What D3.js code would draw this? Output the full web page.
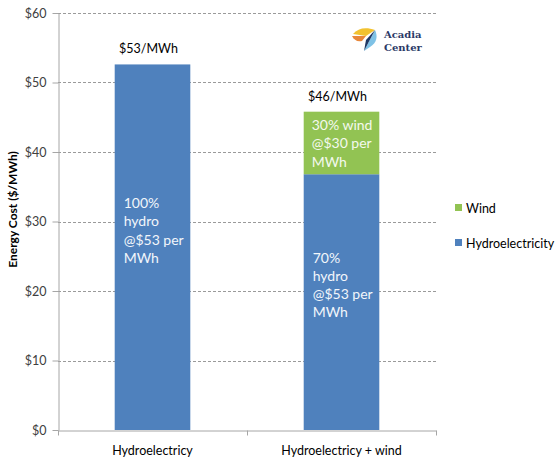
<!DOCTYPE html>
<html>
<head>
<meta charset="utf-8">
<script src="https://cdn.jsdelivr.net/npm/d3@7"></script>
<style>
  body { margin: 0; background: #fff; }
  text { font-family: Lato, "Open Sans", sans-serif; }
  text.logo { font-family: "DejaVu Serif", serif; }
</style>
</head>
<body>
<svg id="chart" width="557" height="464"></svg>
<script>
// Chart data
const categories = ['Hydroelectricy', 'Hydroelectricy + wind'];
const hydroValues = [52.6, 36.8];
const windValues = [0, 9.0];
const totalLabels = ['$53/MWh', '$46/MWh'];
const hydroLabels = [
    ['100%', 'hydro', '@$53 per', 'MWh'],
    ['70%', 'hydro', '@$53 per', 'MWh']
];
const windLabels = [[], ['30% wind', '@$30 per', 'MWh']];
const yTicks = [0, 10, 20, 30, 40, 50, 60];
const seriesNames = ['Wind', 'Hydroelectricity'];

const COLOR_HYDRO = '#4f81bd';
const COLOR_WIND = '#92c353';
const AXIS_COLOR = '#a6a6a6';
const TEXT_COLOR = '#404040';

const margin = { left: 58, right: 121, top: 13, bottom: 34 };
const width = 557, height = 464;

const svg = d3.select('#chart');

const x = d3.scaleBand()
    .domain(categories)
    .range([margin.left, width - margin.right])
    .padding(0);

const y = d3.scaleLinear()
    .domain([0, 60])
    .range([height - margin.bottom, margin.top]);

const barW = x.bandwidth() * 0.4;
const barX = c => x(c) + (x.bandwidth() - barW) / 2;

// gridlines
svg.append('g')
    .selectAll('line')
    .data(yTicks.filter(t => t > 0))
    .join('line')
    .attr('x1', margin.left)
    .attr('x2', width - margin.right)
    .attr('y1', d => Math.round(y(d)) + 0.5)
    .attr('y2', d => Math.round(y(d)) + 0.5)
    .attr('stroke', '#9a9a9a')
    .attr('stroke-dasharray', '3,2');

// stacked bars
const rows = categories.map((c, i) => ({ c, hydro: hydroValues[i], wind: windValues[i], i }));

svg.append('g').selectAll('rect')
    .data(rows)
    .join('rect')
    .attr('x', d => barX(d.c))
    .attr('width', barW)
    .attr('y', d => y(d.hydro))
    .attr('height', d => y(0) - y(d.hydro))
    .attr('fill', COLOR_HYDRO);

svg.append('g').selectAll('rect')
    .data(rows.filter(d => d.wind > 0))
    .join('rect')
    .attr('x', d => barX(d.c))
    .attr('width', barW)
    .attr('y', d => y(d.hydro + d.wind))
    .attr('height', d => y(d.hydro) - y(d.hydro + d.wind))
    .attr('fill', COLOR_WIND);

// total labels above bars
svg.append('g').selectAll('text')
    .data(rows)
    .join('text')
    .attr('x', d => x(d.c) + x.bandwidth() / 2 - 4)
    .attr('y', d => y(d.hydro + d.wind) - 11)
    .attr('text-anchor', 'middle')
    .attr('font-size', 12.5)
    .attr('fill', '#000')
    .text(d => totalLabels[d.i]);

// in-bar labels
function addBarText(lines, xPos, yTop, color) {
    const t = svg.append('text')
        .attr('font-size', 14)
        .attr('fill', color);
    lines.forEach((line, k) => {
        t.append('tspan')
            .attr('x', xPos)
            .attr('y', yTop + k * 18.2)
            .text(line);
    });
}

// baseline of the first line of each hydro label, in data units
const hydroTextY = [y(31.9), y(24.1)];
rows.forEach(d => {
    addBarText(hydroLabels[d.i], barX(d.c) + 9, hydroTextY[d.i], '#f2f6fb');
    if (windLabels[d.i].length) {
        addBarText(windLabels[d.i], barX(d.c) + 8, y(d.hydro + d.wind) + 18.5, '#f4f9ee');
    }
});

// y axis
const yAxis = svg.append('g')
    .attr('transform', `translate(${margin.left + 0.5},0)`)
    .call(d3.axisLeft(y).tickValues(yTicks).tickSize(6).tickSizeOuter(0).tickFormat(d => '$' + d));
yAxis.select('.domain').attr('stroke', AXIS_COLOR);
yAxis.selectAll('.tick line').attr('stroke', AXIS_COLOR);
yAxis.selectAll('.tick text')
    .attr('x', -12)
    .attr('fill', TEXT_COLOR)
    .attr('font-size', 12.5)
    .attr('font-family', 'Lato, sans-serif');

// x axis
const xAxis = svg.append('g')
    .attr('transform', `translate(0,${y(0) + 0.5})`)
    .call(d3.axisBottom(x).tickSize(0).tickSizeOuter(0));
xAxis.select('.domain').attr('stroke', AXIS_COLOR);
xAxis.selectAll('.tick text')
    .attr('y', 16)
    .attr('fill', '#000')
    .attr('font-size', 12.5)
    .attr('font-family', 'Lato, sans-serif');
const boundaries = [margin.left, x(categories[1]), width - margin.right];
xAxis.selectAll('.bound')
    .data(boundaries)
    .join('line')
    .attr('class', 'bound')
    .attr('x1', d => Math.round(d) + 0.5)
    .attr('x2', d => Math.round(d) + 0.5)
    .attr('y1', 0)
    .attr('y2', 5)
    .attr('stroke', AXIS_COLOR);

// y title
svg.append('text')
    .attr('transform', `translate(17,${(margin.top + y(0)) / 2 - 12}) rotate(-90)`)
    .attr('text-anchor', 'middle')
    .attr('font-size', 12)
    .attr('font-weight', 'bold')
    .attr('fill', '#000')
    .text('Energy Cost ($/MWh)');

// legend
const legend = svg.append('g');
const legendColors = [COLOR_WIND, COLOR_HYDRO];
seriesNames.forEach((name, i) => {
    const ly = 208 + i * 35;
    legend.append('rect')
        .attr('x', 455).attr('y', ly - 4)
        .attr('width', 7).attr('height', 7)
        .attr('fill', legendColors[i]);
    legend.append('text')
        .attr('x', 466).attr('y', ly + 4.5)
        .attr('font-size', 12.5)
        .attr('fill', '#000')
        .text(name);
});

// logo
const logo = svg.append('g').attr('transform', 'translate(352,27)');
logo.append('path').attr('d', 'M1,7 C6,1 14,0 23,3 L14,9 Z').attr('fill', '#f2c230');
logo.append('path').attr('d', 'M0,9 L14,9 L10,14 C5,15 2,13 0,9 Z').attr('fill', '#e8873a');
logo.append('path').attr('d', 'M23,3 C26,9 25,16 18,20 L12,24 Z').attr('fill', '#7fc2e6');
logo.append('path').attr('d', 'M23,3 L12,24 L14,13 Z').attr('fill', '#1f3864');
logo.append('text').attr('class', 'logo').attr('x', 32).attr('y', 11)
    .attr('font-size', 10).attr('font-weight', 'bold')
    .attr('fill', '#2b3a67').text('Acadia');
logo.append('text').attr('class', 'logo').attr('x', 32).attr('y', 24)
    .attr('font-size', 10).attr('font-weight', 'bold')
    .attr('fill', '#2b3a67').text('Center');
</script>
</body>
</html>
